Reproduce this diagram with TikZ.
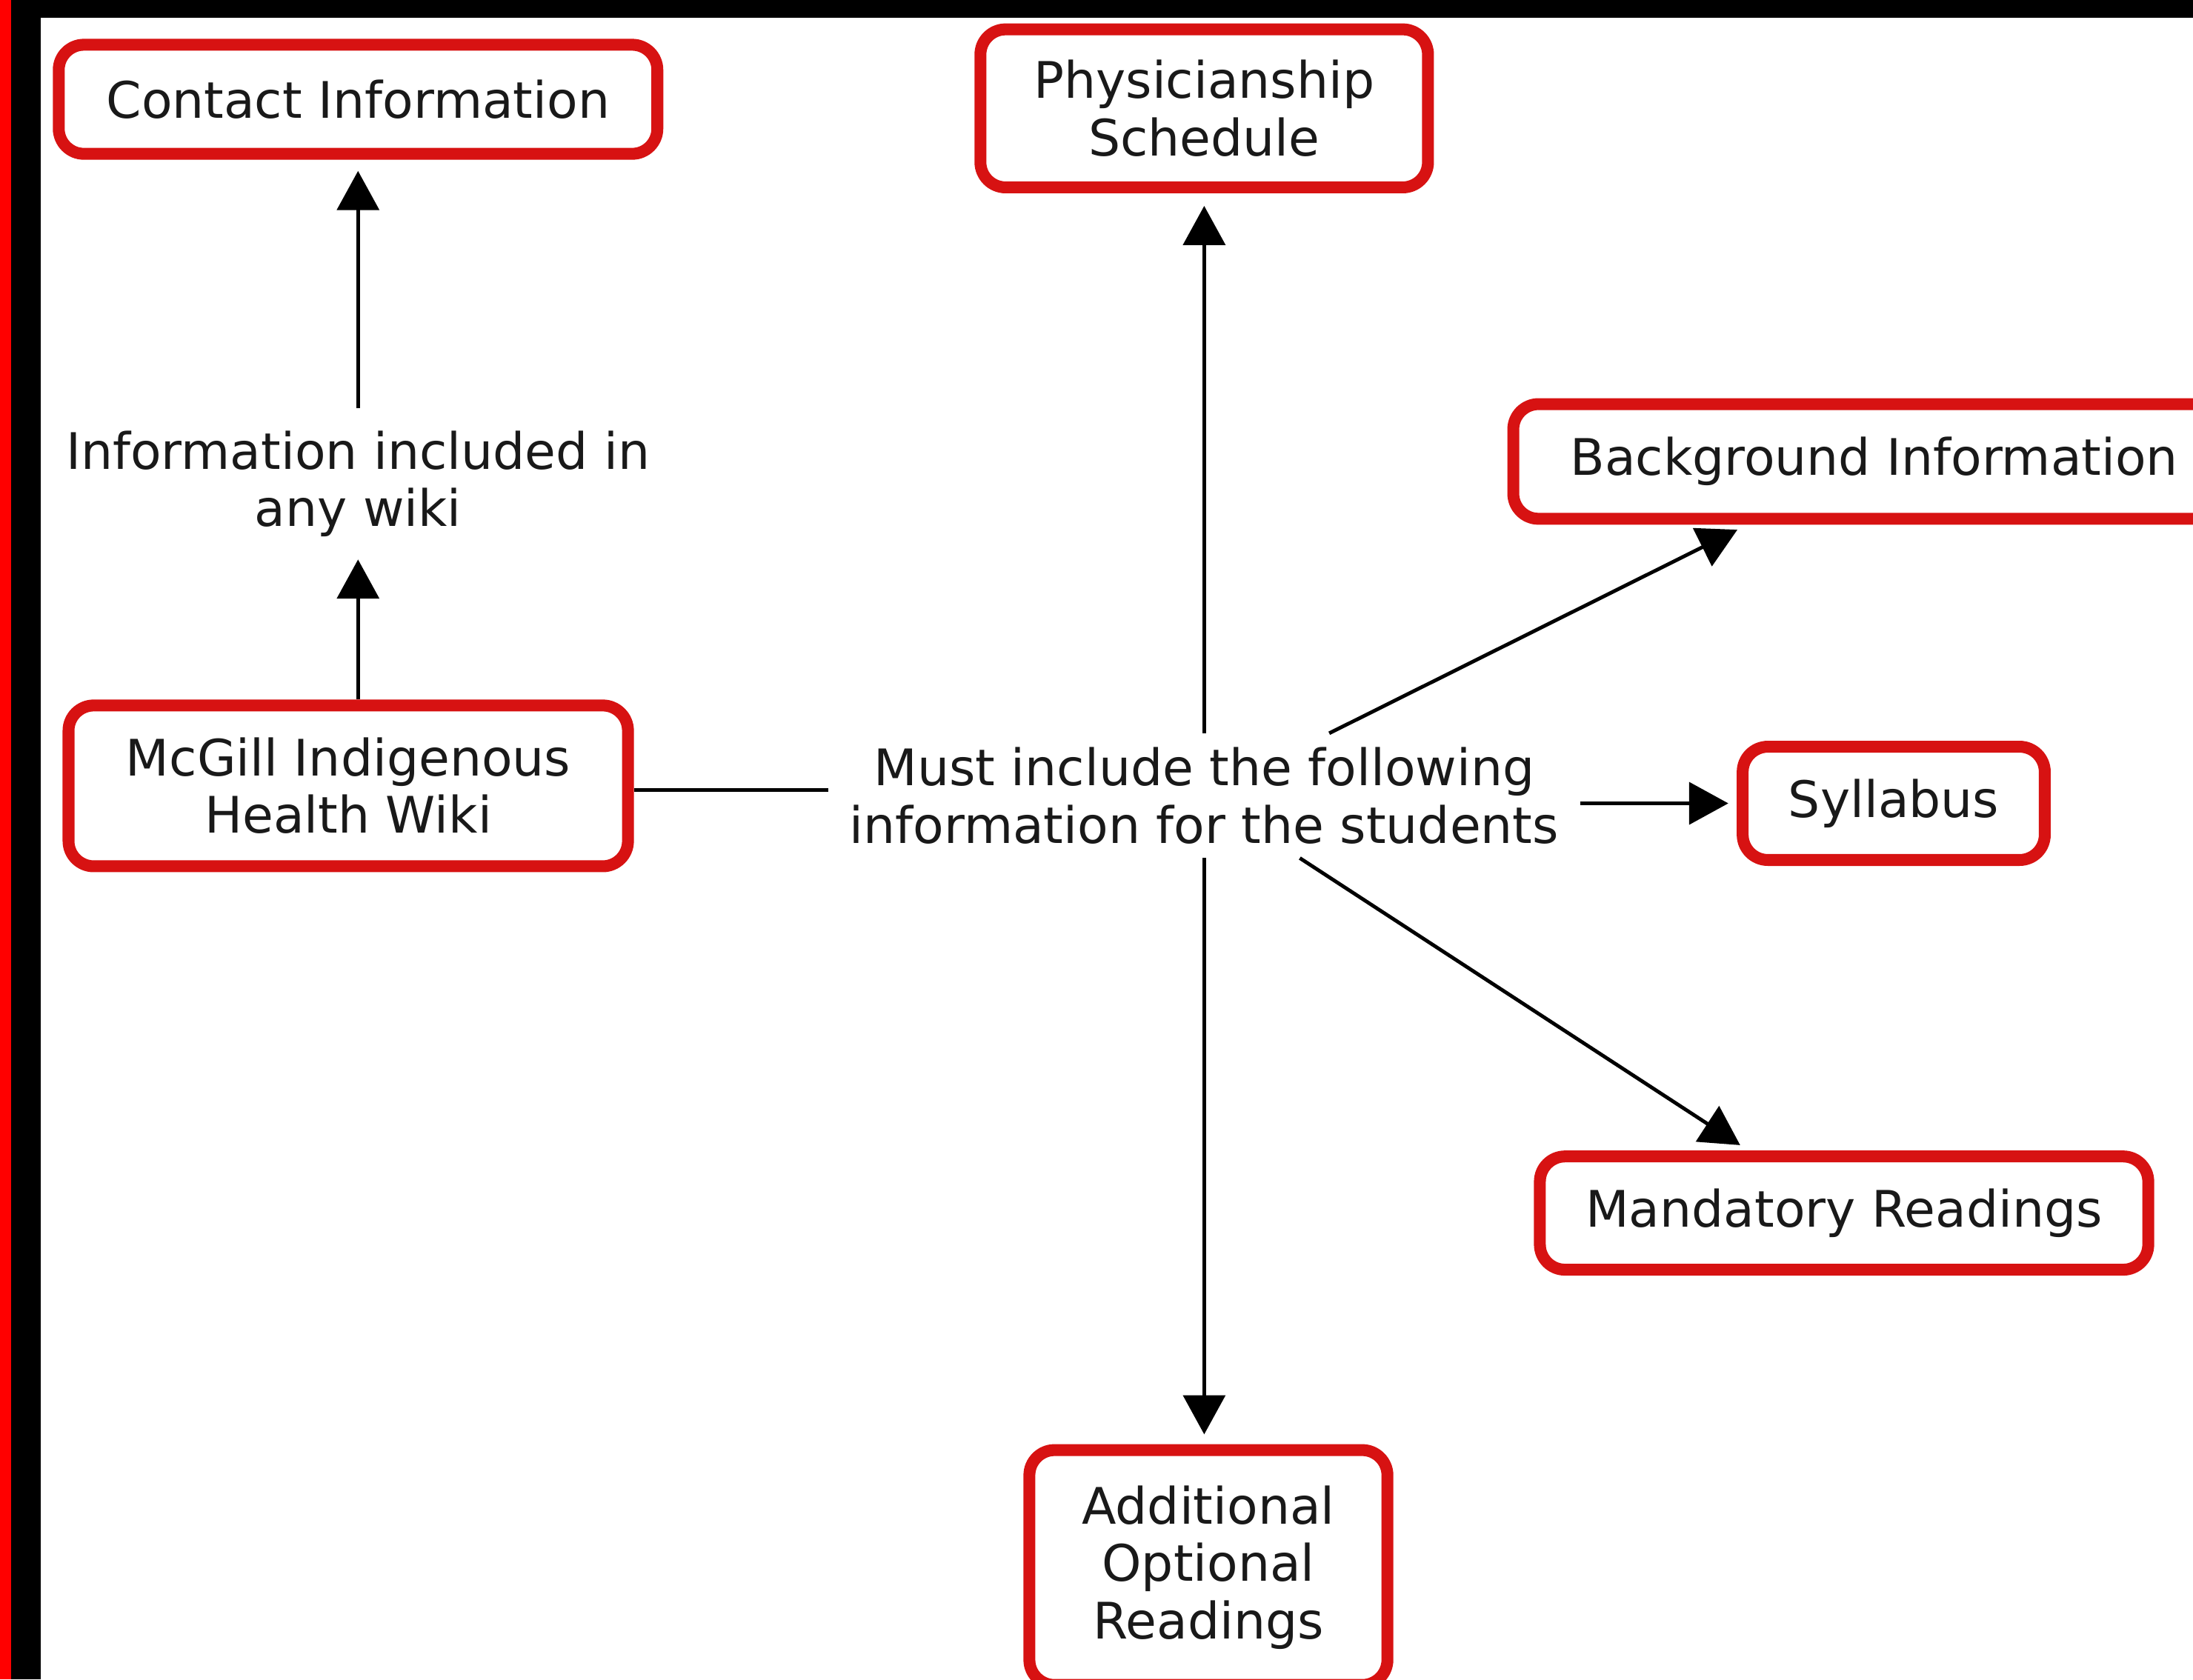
\documentclass[tikz,border=0pt]{standalone}
\usepackage{fontspec}
\setmainfont{DejaVu Sans}
\usetikzlibrary{arrows.meta}
\definecolor{boxred}{RGB}{215,18,18}
\definecolor{txt}{RGB}{25,25,25}
\begin{document}
\begin{tikzpicture}[x=1pt,y=-1pt,
  txtfont/.style={font=\fontsize{36}{41}\selectfont, text=txt},
  box/.style={txtfont, draw=boxred, line width=8.5pt, rounded corners=18pt, fill=white, align=center, inner sep=0pt},
  lbl/.style={txtfont, align=center, inner xsep=15pt},
  conn/.style={line width=2.6pt, draw=black},
  arr/.style={conn, -{Triangle[length=28pt,width=30pt]}, shorten >=7pt}]
\useasboundingbox (0,0) rectangle (1568,1201);
\clip (0,0) rectangle (1568,1201);
\fill[white] (0,0) rectangle (1568,1201);

\node[box, minimum width=428pt, minimum height=78pt] (contact) at (256,71) {Contact Information};
\node[box, minimum width=320pt, minimum height=113pt] (phys) at (861,77.5) {Physicianship\\Schedule};
\node[box, minimum width=516pt, minimum height=82pt] (bg) at (1340,330) {Background Information};
\node[box, minimum width=400pt, minimum height=115pt] (wiki) at (249,562) {McGill Indigenous\\Health Wiki};
\node[box, minimum width=216pt, minimum height=81pt] (syl) at (1354,574.5) {Syllabus};
\node[box, minimum width=435pt, minimum height=81pt] (mand) at (1318.5,867.5) {Mandatory Readings};
\node[box, minimum width=256pt, minimum height=168pt] (add) at (864,1121) {Additional\\Optional\\Readings};
\node[lbl, inner ysep=16pt] (any) at (256,346) {Information included in\\any wiki};
\node[lbl, inner ysep=10pt] (must) at (861,569) {Must include the following\\information for the students};

\draw[arr, shorten >=0pt] (wiki.north -| any) -- (any.south);
\draw[arr, shorten >=8pt] (any) -- (contact);
\draw[conn] ([yshift=-3pt]wiki.east) -- ([yshift=-3pt]wiki.east -| must.west);
\draw[arr, shorten >=9pt] (must) -- (phys);
\draw[arr, shorten >=8pt] (must) -- (bg);
\draw[arr, shorten >=6pt] (must.east |- syl) -- (syl.west);
\draw[arr] (must) -- (mand);
\draw[arr] (must.south) -- (add.north -| must);

\fill[black] (0,0) rectangle (1568,12.7);
\fill[black] (8,0) rectangle (29,1201);
\fill[red] (0,0) rectangle (8,1201);
\end{tikzpicture}
\end{document}
